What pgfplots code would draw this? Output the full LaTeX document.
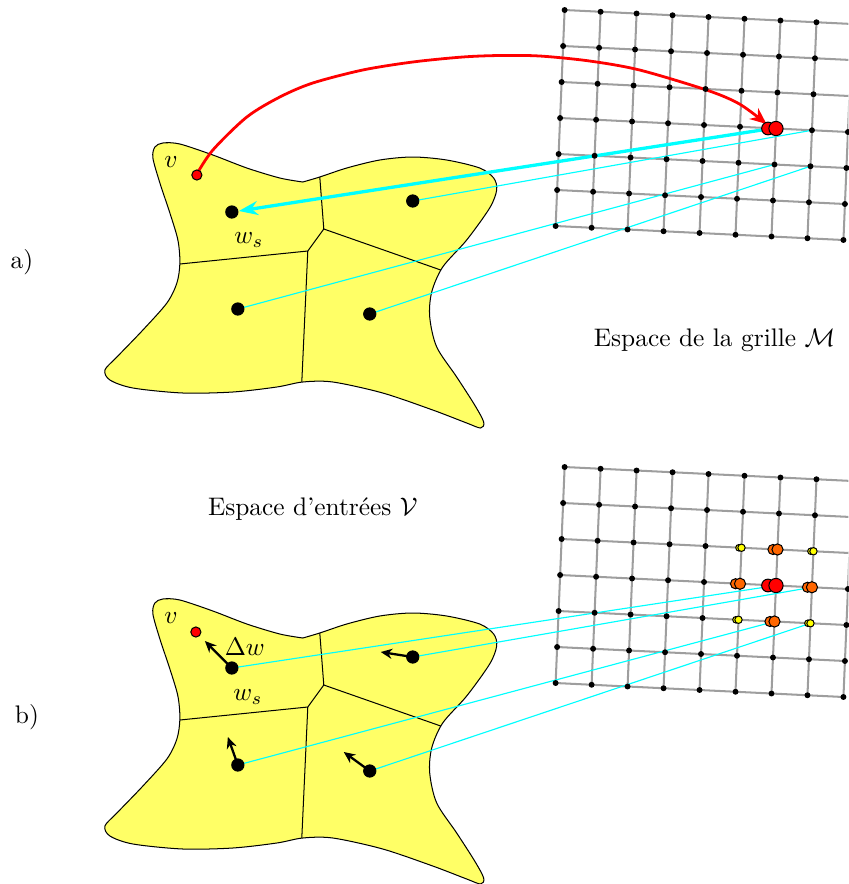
\documentclass[border=0pt]{standalone}
\usepackage{pgfplots}
\pgfplotsset{compat=1.18}
\usepackage{pgfplotstable}
\usetikzlibrary{arrows.meta}
\definecolor{blobfill}{RGB}{255,255,102}
\definecolor{ballorange}{RGB}{255,102,0}
\definecolor{ballyellow}{RGB}{255,255,0}
\definecolor{gridgray}{RGB}{158,158,158}
\definecolor{linkcyan}{RGB}{0,255,255}
\definecolor{pured}{RGB}{255,0,0}

\pgfplotstableread{
x y
303 182
320 177
347 168
380 160
413 157
447 160
480 168
494 178
497 190
490 208
467 240
443 267
432 292
430 317
437 347
457 377
475 405
484 422
481 428
467 423
433 410
383 393
333 382
303 382
277 387
233 392
183 393
133 388
110 380
105 370
117 357
143 330
167 303
177 283
180 263
178 240
170 213
160 183
153 158
155 147
163 143
180 144
213 155
247 168
280 178
303 182
}\blob

\pgfplotstableread{
x y
565 10
601 11.75
637 13.5
673 15.25
709 17
745 18.75
781 20.5
817 22.25
853 24
563.5 46
599.5 47.75
635.5 49.5
671.5 51.25
707.5 53
743.5 54.75
779.5 56.5
815.5 58.25
851.5 60
562 82
598 83.75
634 85.5
670 87.25
706 89
742 90.75
778 92.5
814 94.25
850 96
560.5 118
596.5 119.75
632.5 121.5
668.5 123.25
704.5 125
740.5 126.75
776.5 128.5
812.5 130.25
848.5 132
559 154
595 155.75
631 157.5
667 159.25
703 161
739 162.75
775 164.5
811 166.25
847 168
557.5 190
593.5 191.75
629.5 193.5
665.5 195.25
701.5 197
737.5 198.75
773.5 200.5
809.5 202.25
845.5 204
556 226
592 227.75
628 229.5
664 231.25
700 233
736 234.75
772 236.5
808 238.25
844 240
}\griddots

\begin{document}
\begin{tikzpicture}
\begin{axis}[width=334pt,height=348pt,scale only axis,
  xmin=0,xmax=849,ymin=0,ymax=884,y dir=reverse,hide axis,
  unbounded coords=jump]

% ---- input-space blobs
\addplot[smooth, fill=blobfill, draw=black, line width=0.4pt] table[x=x,y=y] {\blob} -- cycle;
\addplot[smooth, fill=blobfill, draw=black, line width=0.4pt] table[x=x,y expr=\thisrow{y}+456] {\blob} -- cycle;

% ---- Voronoi edges
\addplot[black, line width=0.4pt] coordinates {(180,264) (308,251) (324,229) (320,177) (nan,nan) (324,229) (441,270) (nan,nan) (308,251) (302,382)};
\addplot[black, line width=0.4pt] coordinates {(180,720) (308,707) (324,685) (320,633) (nan,nan) (324,685) (441,726) (nan,nan) (308,707) (302,838)};

% ---- map grids
\addplot[gridgray, line width=0.8pt] coordinates {(565,10) (853,24) (nan,nan) (563.5,46) (851.5,60) (nan,nan) (562,82) (850,96) (nan,nan) (560.5,118) (848.5,132) (nan,nan) (559,154) (847,168) (nan,nan) (557.5,190) (845.5,204) (nan,nan) (556,226) (844,240)};
\addplot[gridgray, line width=0.8pt] coordinates {(565,10) (556,226) (nan,nan) (601,11.75) (592,227.75) (nan,nan) (637,13.5) (628,229.5) (nan,nan) (673,15.25) (664,231.25) (nan,nan) (709,17) (700,233) (nan,nan) (745,18.75) (736,234.75) (nan,nan) (781,20.5) (772,236.5) (nan,nan) (817,22.25) (808,238.25) (nan,nan) (853,24) (844,240)};
\addplot[gridgray, line width=0.8pt] coordinates {(565,467) (853,481) (nan,nan) (563.5,503) (851.5,517) (nan,nan) (562,539) (850,553) (nan,nan) (560.5,575) (848.5,589) (nan,nan) (559,611) (847,625) (nan,nan) (557.5,647) (845.5,661) (nan,nan) (556,683) (844,697)};
\addplot[gridgray, line width=0.8pt] coordinates {(565,467) (556,683) (nan,nan) (601,468.75) (592,684.75) (nan,nan) (637,470.5) (628,686.5) (nan,nan) (673,472.25) (664,688.25) (nan,nan) (709,474) (700,690) (nan,nan) (745,475.75) (736,691.75) (nan,nan) (781,477.5) (772,693.5) (nan,nan) (817,479.25) (808,695.25) (nan,nan) (853,481) (844,697)};
\addplot[only marks, mark=*, mark size=0.95pt, black] table[x=x,y=y] {\griddots};
\addplot[only marks, mark=*, mark size=0.95pt, black] table[x=x,y expr=\thisrow{y}+457] {\griddots};

% ---- cyan links (a)
\addplot[linkcyan, line width=0.45pt] coordinates {(812.5,130.25) (413,201) (nan,nan) (775,164.5) (238,309) (nan,nan) (811,166.25) (370,314)};
\addplot[linkcyan, line width=1.3pt, -{Stealth[length=7.5pt,width=5.5pt]}] coordinates {(772,128.5) (239,211)};
% ---- cyan links (b)
\addplot[linkcyan, line width=0.45pt] coordinates {(776.5,585.5) (232,668) (nan,nan) (812.5,587.25) (413,657) (nan,nan) (775,621.5) (238,765) (nan,nan) (811,623.25) (370,771)};

% ---- delta-w arrows (b)
\addplot[black, line width=0.9pt, -{Stealth[length=4.5pt,width=4pt]}] coordinates {(232,668) (205,641)};
\addplot[black, line width=0.9pt, -{Stealth[length=4.5pt,width=4pt]}] coordinates {(413,657) (381,652)};
\addplot[black, line width=0.9pt, -{Stealth[length=4.5pt,width=4pt]}] coordinates {(238,765) (228,737)};
\addplot[black, line width=0.9pt, -{Stealth[length=4.5pt,width=4pt]}] coordinates {(370,771) (344,752)};

% ---- prototypes
\addplot[only marks, mark=*, mark size=2.4pt, black] coordinates {(232,212) (413,201) (238,309) (370,314)};
\addplot[only marks, mark=*, mark size=2.4pt, black] coordinates {(232,668) (413,657) (238,765) (370,771)};

% ---- red curved arrow (a)
\addplot[pured, line width=1.1pt, smooth, -{Stealth[length=6.5pt,width=5.5pt]}] coordinates {(197,174) (213,150) (247,117) (280,97) (313,83) (363,70) (413,62) (463,57) (500,55.5) (540,56) (590,61) (640,70) (707,90) (740,104) (767,124)};

% ---- input points v
\addplot[only marks, mark=*, mark size=2pt, mark options={fill=pured, draw=black, line width=0.4pt}] coordinates {(197,175)};
\addplot[only marks, mark=*, mark size=2pt, mark options={fill=pured, draw=black, line width=0.4pt}] coordinates {(196,632)};

% ---- winner balls
\addplot[only marks, mark=*, mark size=2.5pt, mark options={fill=pured, draw=black, line width=0.4pt}] coordinates {(768.5,128.5) (768.5,585.5)};
\addplot[only marks, mark=*, mark size=2.8pt, mark options={fill=pured, draw=black, line width=0.4pt}] coordinates {(776.5,128.5) (776.5,585.5)};
\addplot[only marks, mark=*, mark size=2pt, mark options={fill=ballorange, draw=black, line width=0.4pt}] coordinates {(773.5,549.5) (736,583.75) (808,587.25) (770.5,621.5)};
\addplot[only marks, mark=*, mark size=2.2pt, mark options={fill=ballorange, draw=black, line width=0.4pt}] coordinates {(778,549.5) (740.5,583.75) (812.5,587.25) (775,621.5)};
\addplot[only marks, mark=*, mark size=1.3pt, mark options={fill=ballyellow, draw=black, line width=0.4pt}] coordinates {(739.5,547.75) (811.5,551.25) (736.5,619.75) (808.5,623.25)};
\addplot[only marks, mark=*, mark size=1.45pt, mark options={fill=ballyellow, draw=black, line width=0.4pt}] coordinates {(742,547.75) (814,551.25) (739,619.75) (811,623.25)};

% ---- labels
\node at (axis cs:171,162) {$v$};
\node at (axis cs:171,618) {$v$};
\node at (axis cs:249,240) {$w_s$};
\node at (axis cs:248,697) {$w_s$};
\node at (axis cs:245,647) {$\Delta w$};
\node at (axis cs:22,262) {a)};
\node at (axis cs:27,717) {b)};
\node at (axis cs:715,340) {Espace de la grille $\mathcal{M}$};
\node at (axis cs:313,509) {Espace d'entrées $\mathcal{V}$};
\end{axis}
\pgfresetboundingbox
\useasboundingbox (current axis.south west) rectangle (current axis.north east);
\end{tikzpicture}
\end{document}
